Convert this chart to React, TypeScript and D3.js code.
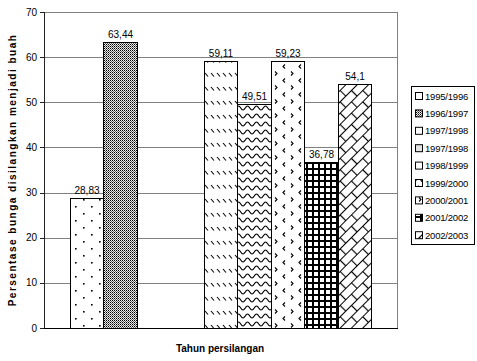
import React from "react";
import * as d3 from "d3";

const seriesNames = ["1995/1996", "1996/1997", "1997/1998", "1997/1998b", "1998/1999", "1999/2000", "2000/2001", "2001/2002", "2002/2003"];
const legendLabels = ["1995/1996", "1996/1997", "1997/1998", "1997/1998", "1998/1999", "1999/2000", "2000/2001", "2001/2002", "2002/2003"];
const seriesValues: (number | null)[] = [28.83, 63.44, null, null, 59.11, 49.51, 59.23, 36.78, 54.1];
const valueLabels = ["28,83", "63,44", "", "", "59,11", "49,51", "59,23", "36,78", "54,1"];
const yTicks = [0, 10, 20, 30, 40, 50, 60, 70];
const patternIds = ["pDots", "pChecker", "pBlank", "pLightGray", "pDash", "pWave", "pChevron", "pGrid", "pBrick"];

const W = 477, H = 361;
const plot = { left: 44, right: 397, top: 12, bottom: 328 };
const FONT = "'Liberation Sans', Arial, sans-serif";

function Patterns() {
  return (
    <defs>
      <pattern id="pDots" width="16" height="14" patternUnits="userSpaceOnUse">
        <rect width="16" height="14" fill="#fff" />
        <rect x="3" y="3" width="1.6" height="1.6" fill="#000" />
        <rect x="11" y="10" width="1.6" height="1.6" fill="#000" />
      </pattern>
      <pattern id="pChecker" width="2" height="2" patternUnits="userSpaceOnUse">
        <rect width="2" height="2" fill="#e8e8e8" />
        <rect x="0" y="0" width="1" height="1" fill="#000" />
        <rect x="1" y="1" width="1" height="1" fill="#666" />
      </pattern>
      <pattern id="pBlank" width="4" height="4" patternUnits="userSpaceOnUse">
        <rect width="4" height="4" fill="#fff" />
      </pattern>
      <pattern id="pLightGray" width="4" height="4" patternUnits="userSpaceOnUse">
        <rect width="4" height="4" fill="#e4e4e4" />
      </pattern>
      <pattern id="pDash" width="6" height="14" patternUnits="userSpaceOnUse">
        <rect width="6" height="14" fill="#fff" />
        <path d="M1,3 L4,6.5" stroke="#000" strokeWidth="1.1" />
      </pattern>
      <pattern id="pWave" width="9" height="8" patternUnits="userSpaceOnUse">
        <rect width="9" height="8" fill="#fff" />
        <path d="M0,6 C2,6 2.5,2 4.5,2 C6.5,2 7,6 9,6" fill="none" stroke="#000" strokeWidth="1.2" />
      </pattern>
      <pattern id="pChevron" width="16" height="14" patternUnits="userSpaceOnUse">
        <rect width="16" height="14" fill="#fff" />
        <path d="M3,1.5 L5,3.5 L3,5.5" fill="none" stroke="#000" strokeWidth="1.1" />
        <path d="M13,8.5 L11,10.5 L13,12.5" fill="none" stroke="#000" strokeWidth="1.1" />
      </pattern>
      <pattern id="pGrid" width="6" height="6" patternUnits="userSpaceOnUse">
        <rect width="6" height="6" fill="#fff" />
        <rect x="0" y="0" width="2" height="6" fill="#000" />
        <rect x="0" y="0" width="6" height="2" fill="#000" />
      </pattern>
      <pattern id="pBrick" width="16" height="16" patternUnits="userSpaceOnUse" patternTransform="rotate(-45)">
        <rect width="16" height="16" fill="#fff" />
        <path d="M0,0.5 H16 M0,8.5 H16 M0.5,0 V8 M8.5,8 V16" stroke="#000" strokeWidth="1.2" fill="none" />
      </pattern>
    </defs>
  );
}

export default function App() {
  const y = d3.scaleLinear().domain([0, 70]).range([plot.bottom, plot.top]);
  const x = d3.scaleBand<string>().domain(seriesNames).range([plot.left, plot.right]).paddingInner(0).paddingOuter(0.76);

  const legend = { x: 411, y: 86, w: 63, h: 158, first: 96, step: 17.4 };

  return (
    <svg width={W} height={H} style={{ position: "absolute", left: 0, top: 0, background: "#fff" }} fontFamily={FONT}>
      <Patterns />
      <rect width={W} height={H} fill="#fff" />
      {yTicks.map((t) => (
        <line key={"g" + t} x1={plot.left} x2={plot.right} y1={Math.round(y(t)) + 0.5} y2={Math.round(y(t)) + 0.5} stroke="#808080" strokeWidth={1} />
      ))}
      <line x1={plot.right + 0.5} x2={plot.right + 0.5} y1={y(70)} y2={y(0)} stroke="#808080" />
      {seriesNames.map((s, i) => {
        const v = seriesValues[i];
        if (v == null) return null;
        const x0 = Math.round(x(s)!);
        const x1 = Math.round(x(s)! + x.bandwidth());
        const yt = Math.round(y(v));
        return (
          <g key={s}>
            <rect x={x0 + 0.5} y={yt + 0.5} width={x1 - x0} height={Math.round(y(0)) - yt} fill={`url(#${patternIds[i]})`} stroke="#000" strokeWidth={1} />
            <text x={(x0 + x1) / 2 + 0.5} y={yt - 4} textAnchor="middle" fontSize={10} fill="#000">{valueLabels[i]}</text>
          </g>
        );
      })}
      <line x1={plot.left + 0.5} x2={plot.left + 0.5} y1={y(70)} y2={y(0)} stroke="#222" />
      {yTicks.map((t) => (
        <g key={"t" + t}>
          <line x1={plot.left - 4} x2={plot.left} y1={Math.round(y(t)) + 0.5} y2={Math.round(y(t)) + 0.5} stroke="#222" />
          <text x={plot.left - 7} y={y(t) + 3.5} textAnchor="end" fontSize={10} fill="#000">{t}</text>
        </g>
      ))}
      <line x1={plot.left} x2={plot.right + 1} y1={Math.round(y(0)) + 0.5} y2={Math.round(y(0)) + 0.5} stroke="#000" />
      <text x={220} y={352} textAnchor="middle" fontSize={10} fontWeight="bold" fill="#000">Tahun persilangan</text>
      <text transform={`translate(16,${(plot.top + plot.bottom) / 2}) rotate(-90)`} textAnchor="middle" fontSize={10} fontWeight="bold" letterSpacing={1.5} fill="#000">Persentase bunga disilangkan menjadi buah</text>
      <rect x={legend.x + 0.5} y={legend.y + 0.5} width={legend.w} height={legend.h} fill="#fff" stroke="#000" />
      {legendLabels.map((l, i) => {
        const cy = legend.first + i * legend.step;
        return (
          <g key={"l" + i}>
            <rect x={415.5} y={cy - 3.5} width={7} height={7} fill={`url(#${patternIds[i]})`} stroke="#000" />
            <text x={425} y={cy + 3.5} fontSize={9.5} letterSpacing={-0.2} fill="#000">{l}</text>
          </g>
        );
      })}
    </svg>
  );
}
